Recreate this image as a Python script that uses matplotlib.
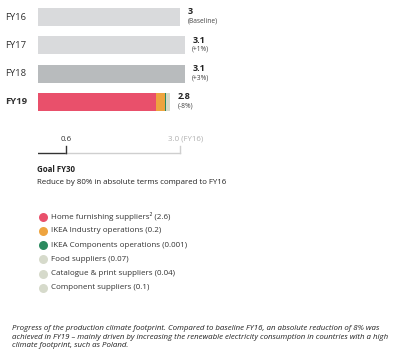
import matplotlib
matplotlib.use("Agg")
import matplotlib.pyplot as plt

plt.rcParams['font.family'] = ['Open Sans', 'Noto Sans', 'DejaVu Sans']

years = ["FY16", "FY17", "FY18", "FY19"]
totals = [3.0, 3.1, 3.1, 2.8]
value_labels = ["3", "3.1", "3.1", "2.8"]
change_labels = ["(Baseline)", "(+1%)", "(+3%)", "(-8%)"]
bar_colors = ["#d9dadc", "#d9dadc", "#b8bbbd"]

# FY19 split as drawn (widths)
fy19_parts = [2.49, 0.2, 0.015, 0.03, 0.03, 0.035]
part_colors = ["#e9506b", "#eea43f", "#2b8a5f", "#d6dacb", "#d6dacb", "#d6dacb"]

legend_labels = ["Home furnishing suppliers\u00b2 (2.6)", "IKEA Industry operations (0.2)",
                 "IKEA Components operations (0.001)", "Food suppliers (0.07)",
                 "Catalogue & print suppliers (0.04)", "Component suppliers (0.1)"]

goal_value = 0.6
baseline = 3.0

W, H = 399, 360
fig = plt.figure(figsize=(W / 100, H / 100), dpi=100)

x0 = 38
px_per_unit = 47.3
row = 28.3

def fig_rect(left, top, width, height):
    return [left / W, 1 - (top + height) / H, width / W, height / H]

# bars
ax = fig.add_axes(fig_rect(x0, 17 - row / 2, 3.5 * px_per_unit, 4 * row))
ax.set_xlim(0, 3.5)
ax.set_ylim(3.5, -0.5)
ax.axis("off")
for i in range(3):
    ax.barh(i, totals[i], height=0.64, color=bar_colors[i], linewidth=0)
left = 0
for v, c in zip(fy19_parts, part_colors):
    ax.barh(3, v, left=left, height=0.64, color=c, linewidth=0)
    left += v
for i, y in enumerate(years):
    ax.text(-0.70, i, y, ha="left", va="center", fontsize=6.8,
            fontweight="bold" if y == "FY19" else "normal", color="#333333")
    ax.text(totals[i] + 0.16, i - 0.02, value_labels[i], ha="left", va="bottom",
            fontsize=6.5, fontweight="bold", color="#222222")
    ax.text(totals[i] + 0.16, i + 0.02, change_labels[i], ha="left", va="top",
            fontsize=4.8, color="#444444")

# goal scale
gax = fig.add_axes(fig_rect(x0, 135, 3.5 * px_per_unit, 20))
gax.set_xlim(0, 3.5)
gax.set_ylim(0, 1)
gax.axis("off")
gax.plot([0, goal_value], [0.1, 0.1], color="#333333", lw=1)
gax.plot([goal_value, baseline], [0.1, 0.1], color="#cfcfcf", lw=1)
gax.plot([goal_value, goal_value], [0.1, 0.45], color="#333333", lw=1)
gax.plot([baseline, baseline], [0.1, 0.45], color="#cfcfcf", lw=1)
gax.text(goal_value, 0.6, "0.6", ha="center", va="bottom", fontsize=5.7, color="#333333")
gax.text(baseline + 0.12, 0.6, "3.0 (FY16)", ha="center", va="bottom", fontsize=5.7,
         color="#b0b0b0")

# overlay in pixel units for text and legend
tax = fig.add_axes([0, 0, 1, 1])
tax.set_xlim(0, W)
tax.set_ylim(H, 0)
tax.axis("off")
tax.text(37, 170, "Goal FY30", fontsize=5.7, fontweight="bold", va="center", color="#222222")
tax.text(37, 182, "Reduce by 80% in absolute terms compared to FY16", fontsize=5.7,
         va="center", color="#222222")
for k, (lab, c) in enumerate(zip(legend_labels, part_colors)):
    y = 216.8 + k * 14.2
    tax.scatter([43], [y], s=42, color=c, linewidths=0)
    tax.text(51, y, lab, fontsize=5.75, va="center", color="#333333")

caption = ("Progress of the production climate footprint. Compared to baseline FY16, an absolute reduction of 8% was\n"
           "achieved in FY19 \u2013 mainly driven by increasing the renewable electricity consumption in countries with a high\n"
           "climate footprint, such as Poland.")
tax.text(12, 325.5, caption, fontsize=5.65, style="italic", va="top", color="#222222",
         linespacing=1.25)

fig.savefig("out.png", dpi=100)
